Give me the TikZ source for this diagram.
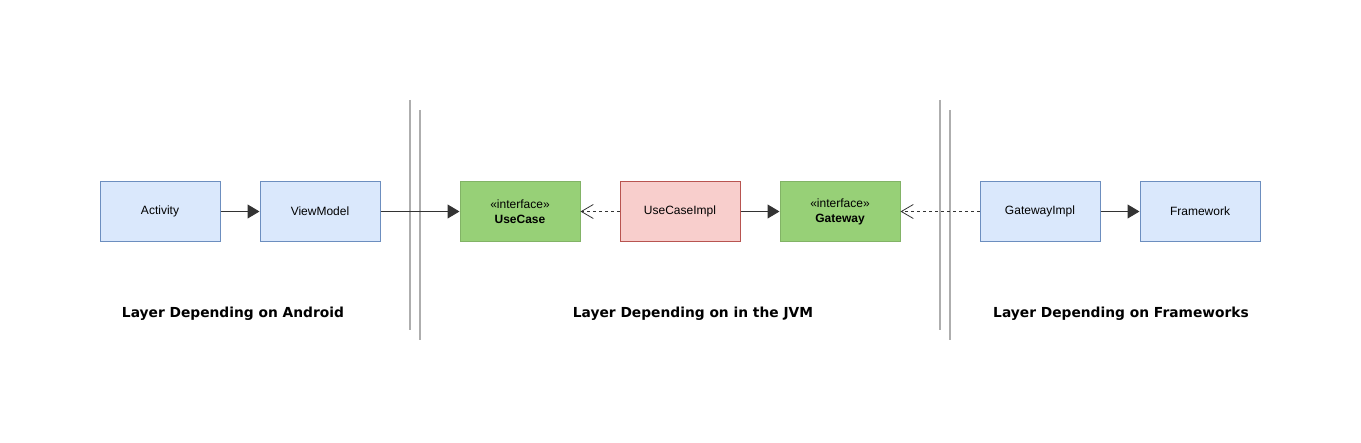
\documentclass[tikz,border=0pt]{standalone}
\usepackage{fontspec}
\setmainfont{Liberation Sans}
\newfontfamily\layerfont{DejaVu Sans}
\usetikzlibrary{arrows.meta}
\definecolor{blueFill}{HTML}{DAE8FC}
\definecolor{blueLine}{HTML}{6C8EBF}
\definecolor{greenFill}{HTML}{97D077}
\definecolor{greenLine}{HTML}{82B366}
\definecolor{redFill}{HTML}{F8CECC}
\definecolor{redLine}{HTML}{B85450}
\definecolor{edgeGray}{HTML}{333333}
\definecolor{sepGray}{HTML}{AEAEAE}

\begin{document}
\begin{tikzpicture}[x=1pt,y=-1pt,
  box/.style={draw, line width=1pt, minimum width=120pt, minimum height=60pt,
    inner sep=0pt, align=center, font=\fontsize{12}{15}\selectfont},
  bluebox/.style={box, fill=blueFill, draw=blueLine},
  greenbox/.style={box, fill=greenFill, draw=greenLine},
  redbox/.style={box, fill=redFill, draw=redLine},
  layer/.style={font=\layerfont\bfseries\fontsize{13.8}{16}\selectfont},
  sepline/.style={draw=sepGray, line width=2pt},
  uses/.style={draw=edgeGray, line width=1pt, -{Triangle[length=12pt,width=14pt]}},
  impl/.style={draw=edgeGray, line width=0.8pt, dash pattern=on 3pt off 3pt,
    -{Straight Barb[length=12pt,width=14pt,line width=0.8pt]}}]
\useasboundingbox (0,0) rectangle (1361,443);

% separators between the layers
\foreach \x in {410,940}{
	\draw[sepline] (\x,100) -- (\x,330);
	\draw[sepline] (\x+10,110) -- (\x+10,340);
	}

% classes
\node[bluebox] (activity) at (160,211.5) {Activity};
\node[bluebox] (viewmodel) at (320,211.5) {ViewModel};
\node[greenbox] (usecase) at (520,211.5) {«interface»\\\textbf{UseCase}};
\node[redbox] (usecaseimpl) at (680,211.5) {UseCaseImpl};
\node[greenbox] (gateway) at (840,211.5) {«interface»\\\textbf{Gateway}};
\node[bluebox] (gatewayimpl) at (1040,211.5) {GatewayImpl};
\node[bluebox] (framework) at (1200,211.5) {Framework};

% layer titles
\node[layer] (android) at (233,313.5) {Layer Depending on Android};
\node[layer] (jvm) at (693,313.5) {Layer Depending on in the JVM};
\node[layer] (frameworks) at (1121,313.5) {Layer Depending on Frameworks};

% dependencies
\draw[uses] (activity) -- (viewmodel);
\draw[uses] (viewmodel) -- (usecase);
\draw[impl] (usecaseimpl) -- (usecase);
\draw[uses] (usecaseimpl) -- (gateway);
\draw[impl] (gatewayimpl) -- (gateway);
\draw[uses] (gatewayimpl) -- (framework);
\end{tikzpicture}
\end{document}
